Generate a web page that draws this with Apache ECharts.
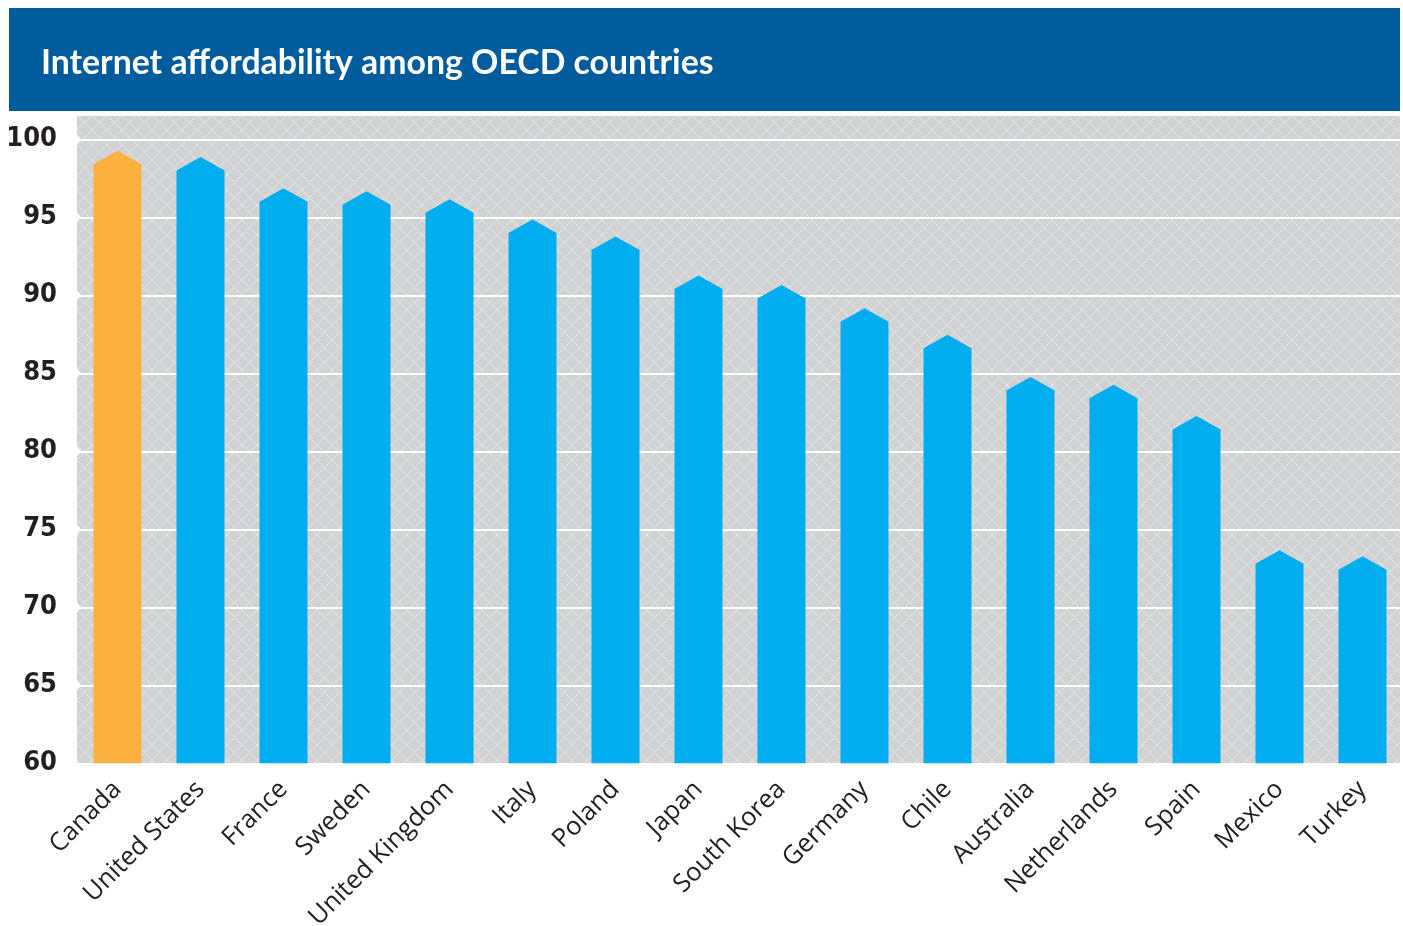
<!DOCTYPE html>
<html>
<head>
<meta charset="utf-8">
<title>Internet affordability among OECD countries</title>
<script src="https://cdn.jsdelivr.net/npm/echarts@6/dist/echarts.min.js"></script>
<style>
  html, body { margin: 0; padding: 0; background: #ffffff; }
  #chart { width: 1403px; height: 926px; }
</style>
</head>
<body>
<div id="chart"></div>
<script>
// Affordability score by country
const countries = ['Canada', 'United States', 'France', 'Sweden', 'United Kingdom', 'Italy', 'Poland',
  'Japan', 'South Korea', 'Germany', 'Chile', 'Australia', 'Netherlands', 'Spain', 'Mexico', 'Turkey'];
const scores = [98.4, 98.0, 96.0, 95.8, 95.3, 94.0, 92.9, 90.4, 89.8, 88.3, 86.6, 83.9, 83.4, 81.4, 72.8, 72.4];
const yTicks = [65, 70, 75, 80, 85, 90, 95, 100];
const highlighted = 'Canada';

const BLUE = '#00adee';
const ORANGE = '#fbb040';

// Light diagonal cross-hatch tile for the plot background
function hatchTile() {
  const c = document.createElement('canvas');
  c.width = 15; c.height = 15;
  const g = c.getContext('2d');
  g.fillStyle = '#d1d2d4';
  g.fillRect(0, 0, 15, 15);
  g.strokeStyle = '#e5e6e7';
  g.lineWidth = 1;
  g.beginPath();
  g.moveTo(-1, -1); g.lineTo(16, 16);
  g.moveTo(16, -1); g.lineTo(-1, 16);
  g.stroke();
  return c;
}

const chart = echarts.init(document.getElementById('chart'), null, { renderer: 'canvas' });

chart.setOption({
  animation: false,
  backgroundColor: '#ffffff',
  title: {
    text: 'Internet affordability among OECD countries',
    left: 36,
    top: 41,
    textStyle: {
      color: '#ffffff',
      fontFamily: 'Lato',
      fontWeight: 'bold',
      fontSize: 33.8
    }
  },
  graphic: [
    {
      type: 'rect', left: 9, top: 8, z: -20,
      shape: { width: 1391, height: 103 },
      style: { fill: '#005c9c' }
    },
    {
      type: 'rect', left: 77, top: 115, z: -20,
      shape: { width: 1323, height: 649 },
      style: { fill: { image: hatchTile(), repeat: 'repeat' } }
    }
  ],
  grid: { left: 76, right: -1, top: 115, bottom: 162.7, containLabel: false, outerBoundsMode: 'none' },
  xAxis: {
    type: 'category',
    data: countries,
    axisLine: { show: false },
    axisTick: { show: false },
    splitLine: { show: false },
    axisLabel: {
      interval: 0,
      rotate: 45,
      margin: 22,
      color: '#231f20',
      fontFamily: 'Open Sans',
      fontSize: 25.5
    }
  },
  yAxis: {
    type: 'value',
    min: 60,
    max: 101.56,
    interval: 5,
    axisLine: { show: false },
    axisTick: { show: false },
    splitLine: { show: true, lineStyle: { color: '#ffffff', width: 2 } },
    axisLabel: {
      margin: 19,
      color: '#231f20',
      fontFamily: 'DejaVu Sans Condensed',
      fontWeight: 'bold',
      fontSize: 27,
      padding: [5, 0, 0, 0],
      formatter: v => (v % 5 === 0 && v <= 100) ? String(v) : ''
    }
  },
  series: [
    {
      // Bars with an arrow-like pointed cap
      type: 'custom',
      z: 3,
      encode: { x: 0, y: 1 },
      data: scores.map((v, i) => [i, v]),
      renderItem: function (params, api) {
        const i = api.value(0);
        const top = api.coord([i, api.value(1)]);
        const base = api.coord([i, 60]);
        const w = api.size([1, 0])[0] * 0.578;
        const cap = 13.5;
        const x0 = top[0] - w / 2, x1 = top[0] + w / 2;
        return {
          type: 'polygon',
          shape: {
            points: [[x0, base[1]], [x0, top[1]], [top[0], top[1] - cap], [x1, top[1]], [x1, base[1]]]
          },
          style: { fill: countries[i] === highlighted ? ORANGE : BLUE }
        };
      }
    },
    {
      // Small pointers at the left end of each gridline
      type: 'custom',
      z: 2,
      silent: true,
      encode: { x: 0, y: 1 },
      data: yTicks.map(v => [0, v]),
      renderItem: function (params, api) {
        const p = api.coord([0, api.value(1)]);
        const x = params.coordSys.x + 1;
        return {
          type: 'polygon',
          shape: { points: [[x - 1, p[1] - 6], [x + 4, p[1]], [x - 1, p[1] + 6]] },
          style: { fill: '#ffffff' }
        };
      }
    }
  ]
});
</script>
</body>
</html>
